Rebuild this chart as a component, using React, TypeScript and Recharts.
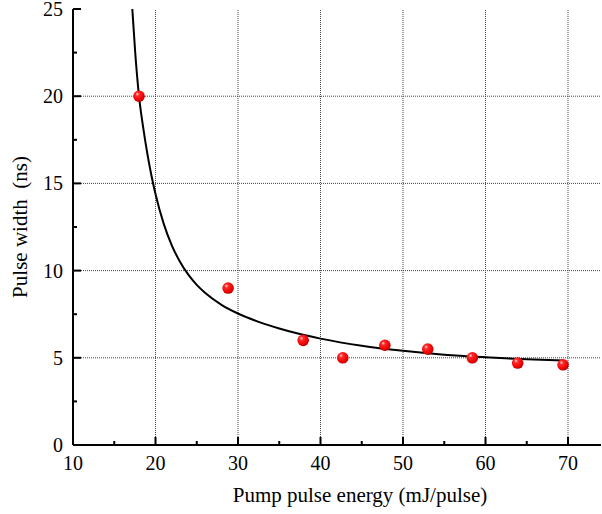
import React from "react";
import {
    ComposedChart,
    Line,
    Scatter,
    XAxis,
    YAxis,
    ReferenceLine
} from "recharts";

// measured points
const ENERGY = [18.0, 28.8, 37.9, 42.7, 47.8, 53.0, 58.4, 63.9, 69.4];
const WIDTH = [20.0, 9.0, 6.0, 5.0, 5.72, 5.5, 5.0, 4.7, 4.6];

// fit curve
const CURVE_X = [17.19, 17.52, 18.0, 18.5, 19.0, 19.5, 20.0, 21.0, 22.0, 23.0, 24.0, 25.0, 26.0, 28.0, 30.0, 32.5, 35.0, 37.5, 40.0, 45.0, 50.0, 55.0, 60.0, 65.0, 69.4];
const CURVE_Y = [25.0, 22.65, 20.0, 18.23, 16.74, 15.47, 14.39, 12.68, 11.42, 10.48, 9.75, 9.18, 8.73, 8.04, 7.54, 7.06, 6.68, 6.36, 6.1, 5.69, 5.4, 5.18, 5.03, 4.91, 4.84];

const X_TICKS = [10, 15, 20, 25, 30, 35, 40, 45, 50, 55, 60, 65, 70];
const Y_TICKS = [0, 2.5, 5, 7.5, 10, 12.5, 15, 17.5, 20, 22.5, 25];
const X_GRID = [20, 30, 40, 50, 60, 70];
const Y_GRID = [5, 10, 15, 20];

const points = ENERGY.map((x, i) => ({ x, y: WIDTH[i] }));
const curve = CURVE_X.map((x, i) => ({ x, y: CURVE_Y[i] }));

const FONT = "'Liberation Serif', 'Times New Roman', serif";

const BottomTick = ({ x, y, payload }: any) => {
    const major = payload.value % 10 === 0;
    return (
        <g>
            <line x1={x} x2={x} y1={y} y2={y - (major ? 8 : 4)} stroke="#000" strokeWidth={2} />
            {major && (
                <text x={x} y={y + 25} textAnchor="middle" fontSize={20} fontFamily={FONT} fill="#000">
                    {payload.value}
                </text>
            )}
        </g>
    );
};

const TopTick = ({ x, y, payload }: any) => {
    const major = payload.value % 10 === 0;
    return <line x1={x} x2={x} y1={y} y2={y + (major ? 8 : 4)} stroke="#000" strokeWidth={2} />;
};

const LeftTick = ({ x, y, payload }: any) => {
    const major = payload.value % 5 === 0;
    return (
        <g>
            <line x1={x} x2={x + (major ? 8 : 4)} y1={y} y2={y} stroke="#000" strokeWidth={2} />
            {major && (
                <text x={x - 10} y={y + 7} textAnchor="end" fontSize={20} fontFamily={FONT} fill="#000">
                    {payload.value}
                </text>
            )}
        </g>
    );
};

const Ball = ({ cx, cy }: any) => <circle cx={cx} cy={cy} r={5.8} fill="url(#ball)" />;

export default function App() {
    return (
        <div style={{ position: "absolute", left: 0, top: 0, width: 602, height: 514, background: "#fff" }}>
            <ComposedChart
                width={602}
                height={514}
                margin={{ top: 9, right: 1, left: 0, bottom: 0 }}
                style={{ overflow: "visible" }}
            >
                <defs>
                    <radialGradient id="ball" cx="40%" cy="40%" r="65%" fx="35%" fy="30%">
                        <stop offset="0%" stopColor="#ffe0e0" />
                        <stop offset="25%" stopColor="#ff2a2a" />
                        <stop offset="75%" stopColor="#ee0000" />
                        <stop offset="100%" stopColor="#a00000" />
                    </radialGradient>
                </defs>
                <XAxis
                    dataKey="x"
                    type="number"
                    domain={[10, 74]}
                    allowDataOverflow
                    ticks={X_TICKS}
                    interval={0}
                    height={69}
                    tickSize={0}
                    tickMargin={0}
                    tickLine={false}
                    axisLine={{ stroke: "#000", strokeWidth: 2 }}
                    tick={(p: any) => <BottomTick {...p} />}
                    label={{
                        position: "insideBottom",
                        content: ({ viewBox }: any) => (
                            <text x={360} y={viewBox.y + 57} textAnchor="middle" fontSize={21} fontFamily={FONT} fill="#000">
                                Pump pulse energy (mJ/pulse)
                            </text>
                        )
                    }}
                />
                <XAxis
                    xAxisId="top"
                    orientation="top"
                    type="number"
                    dataKey="x"
                    domain={[10, 74]}
                    allowDataOverflow
                    ticks={X_TICKS}
                    interval={0}
                    height={0}
                    tickSize={0}
                    tickMargin={0}
                    tickLine={false}
                    axisLine={{ stroke: "#000", strokeWidth: 2 }}
                    tick={(p: any) => <TopTick {...p} />}
                />
                <YAxis
                    type="number"
                    domain={[0, 25]}
                    allowDataOverflow
                    ticks={Y_TICKS}
                    interval={0}
                    width={73}
                    tickSize={0}
                    tickMargin={0}
                    tickLine={false}
                    axisLine={{ stroke: "#000", strokeWidth: 2 }}
                    tick={(p: any) => <LeftTick {...p} />}
                    label={{
                        position: "insideLeft",
                        content: ({ viewBox }: any) => {
                            const cy = viewBox.y + viewBox.height / 2;
                            return (
                                <text
                                    x={27}
                                    y={cy}
                                    transform={`rotate(-90, 27, ${cy})`}
                                    textAnchor="middle"
                                    fontSize={21}
                                    fontFamily={FONT}
                                    fill="#000"
                                    style={{ whiteSpace: "pre" }}
                                >
                                    {"Pulse width  (ns)"}
                                </text>
                            );
                        }
                    }}
                />
                {X_GRID.map((v) => (
                    <ReferenceLine key={`gx-${v}`} x={v} stroke="#444" strokeWidth={1} strokeDasharray="1 1" />
                ))}
                {Y_GRID.map((v) => (
                    <ReferenceLine key={`gy-${v}`} y={v} stroke="#444" strokeWidth={1} strokeDasharray="1 1" />
                ))}
                <Line
                    data={curve}
                    dataKey="y"
                    type="monotone"
                    stroke="#000"
                    strokeWidth={2}
                    dot={false}
                    activeDot={false}
                    isAnimationActive={false}
                />
                <Scatter data={points} dataKey="y" shape={<Ball />} isAnimationActive={false} />
            </ComposedChart>
        </div>
    );
}
